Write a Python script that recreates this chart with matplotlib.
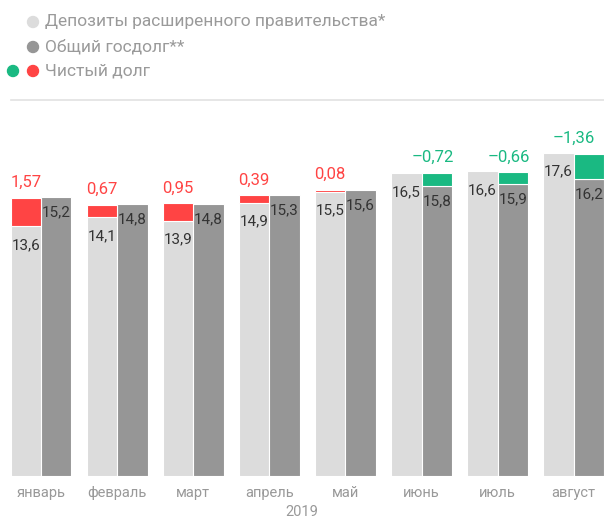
import matplotlib
matplotlib.use('Agg')
import matplotlib.pyplot as plt
from matplotlib.patches import Circle
from matplotlib.lines import Line2D

plt.rcParams['font.family'] = ['Roboto', 'DejaVu Sans']

# Data
months = ['январь', 'февраль', 'март', 'апрель', 'май', 'июнь', 'июль', 'август']
deposits = [13.6, 14.1, 13.9, 14.9, 15.5, 16.5, 16.6, 17.6]
debt = [15.2, 14.8, 14.8, 15.3, 15.6, 15.8, 15.9, 16.2]
net_debt = [1.57, 0.67, 0.95, 0.39, 0.08, -0.72, -0.66, -1.36]
legend_labels = ['Депозиты расширенного правительства*', 'Общий госдолг**', 'Чистый долг']
year = '2019'

light = '#dcdcdc'
dark = '#969696'
red = '#ff4444'
green = '#1ab982'

W, H = 604, 519
fig = plt.figure(figsize=(W / 100, H / 100), dpi=100)
ax = fig.add_axes([0, 43 / H, 1, 376 / H])
ax.set_xlim(-0.539, 7.398)
ax.set_ylim(0, 20.49)
ax.axis('off')

x = list(range(len(months)))
xl = [i - 0.2 for i in x]
xd = [i + 0.2 for i in x]
bw = 0.4

ax.bar(xl, deposits, bw, color=light, edgecolor='white', linewidth=0.8)
ax.bar(xd, debt, bw, color=dark, edgecolor='white', linewidth=0.8)

for i in x:
    n = net_debt[i]
    if n > 0:
        ax.bar(xl[i], n, bw, bottom=deposits[i], color=red, edgecolor='white', linewidth=0.8)
        top, xp, col = deposits[i] + n, xl[i], red
        lab = f'{n:.2f}'.replace('.', ',')
    else:
        ax.bar(xd[i], -n, bw, bottom=debt[i], color=green, edgecolor='white', linewidth=0.8)
        top, xp, col = debt[i] - n, xd[i] - 0.05, green
        lab = '–' + f'{-n:.2f}'.replace('.', ',')
    # keep the last label inside the figure
    xp = min(xp, 7.0)
    ax.annotate(lab, (xp, top), xytext=(0, 11), textcoords='offset points',
                ha='center', va='center', fontsize=12, color=col, annotation_clip=False)
    ax.annotate(f'{deposits[i]:.1f}'.replace('.', ','), (xl[i], deposits[i]), xytext=(0, -13.5),
                textcoords='offset points', ha='center', va='center', fontsize=11, color='#333333')
    ax.annotate(f'{debt[i]:.1f}'.replace('.', ','), (xd[i], debt[i]), xytext=(0, -11),
                textcoords='offset points', ha='center', va='center', fontsize=11, color='#333333')
    ax.annotate(months[i], (i, 0), xytext=(0, -12.5), textcoords='offset points',
                ha='center', va='center', fontsize=10.5, color='#999999', annotation_clip=False)

fig.text(302 / W, 1 - 512 / H, year, ha='center', va='center', fontsize=10.5, color='#999999')

# Legend
rows = [(22, [light]), (47, [dark]), (71, [green, red])]
for (py, cols), lab in zip(rows, legend_labels):
    for k, c in enumerate(reversed(cols)):
        fig.add_artist(Circle(((33 - 20 * k) / 100, (H - py) / 100), 0.055,
                              transform=fig.dpi_scale_trans, color=c))
    fig.text(45 / W, 1 - py / H, lab, ha='left', va='center', fontsize=12.5, color='#9a9a9a')

fig.add_artist(Line2D([11 / W, 1], [1 - 100 / H, 1 - 100 / H], transform=fig.transFigure,
                      color='#e2e2e2', linewidth=1.2))

fig.savefig('out.png', dpi=100)
